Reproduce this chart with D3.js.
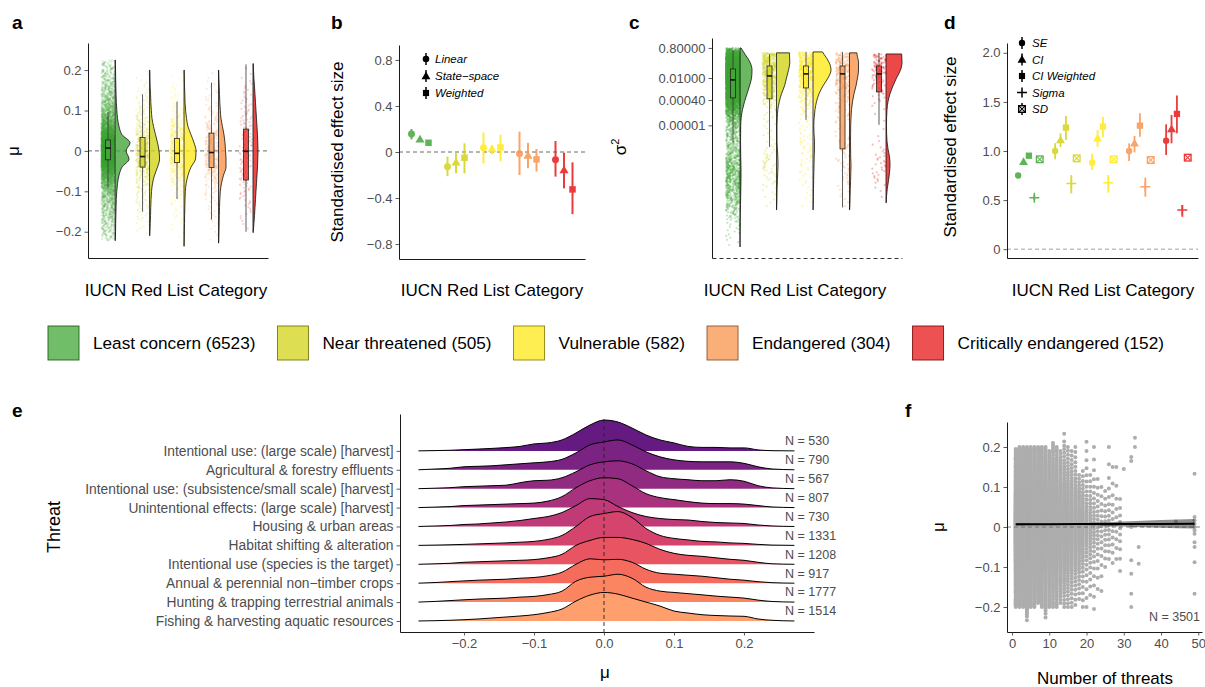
<!DOCTYPE html>
<html>
<head>
<meta charset="utf-8">
<script src="https://cdn.jsdelivr.net/npm/d3@7"></script>
<style>
  html, body { margin: 0; padding: 0; background: #ffffff; }
  svg { display: block; font-family: "Liberation Sans", Arial, Helvetica, sans-serif; }
</style>
</head>
<body>
<svg id="fig" width="1205" height="687"></svg>
<script>
// ---------------------------------------------------------------------------
// Data
// ---------------------------------------------------------------------------
const categories = ["Least concern", "Near threatened", "Vulnerable", "Endangered", "Critically endangered"];
const categoryN = [6523, 505, 582, 304, 152];

// (a) distribution of μ per category (density on muGrid) and box statistics
const muGrid = [-0.24, -0.22, -0.2, -0.18, -0.16, -0.14, -0.12, -0.1, -0.08, -0.06, -0.04, -0.02, 0,
                0.02, 0.04, 0.06, 0.08, 0.1, 0.12, 0.14, 0.16, 0.18, 0.2, 0.22, 0.24];
const muDensLC = [0, 0.3, 0.5, 0.6, 0.8, 1, 1.2, 1.7, 2.5, 4, 7, 14, 11, 15, 7, 4, 2.5, 1.8, 1.3, 1, 0.8, 0.6, 0.5, 0.3, 0];
const muDensNT = [0, 0, 0.4, 0.7, 1, 1.2, 1.5, 2, 3, 5, 8, 10, 9.5, 8, 6, 4, 2.5, 1.8, 1.3, 1, 0.6, 0.4, 0.3, 0, 0];
const muDensVU = [0, 0.2, 0.3, 0.45, 0.6, 0.8, 1, 1.3, 2.2, 4, 7, 11.5, 12, 10, 7, 4, 2.5, 1.6, 1, 0.8, 0.5, 0.35, 0.2, 0, 0];
const muDensEN = [0, 0.3, 0.5, 0.65, 0.8, 1, 1.3, 1.8, 3, 5, 7.5, 7.5, 7, 6.5, 5.5, 4, 2.5, 1.8, 1.3, 1, 0.7, 0.4, 0.2, 0, 0];
const muDensCR = [0, 0, 0.3, 0.9, 1.5, 2, 2.5, 3, 3.5, 4, 4.5, 4.8, 5, 4.8, 4.5, 4, 3.5, 3, 2.5, 2, 1.5, 0.9, 0.5, 0.2, 0];
const muMin = [-0.222, -0.21, -0.236, -0.228, -0.202];
const muMax = [0.225, 0.2, 0.2, 0.2, 0.216];
const muWhiskerLo = [-0.09, -0.15, -0.119, -0.17, -0.2];
const muQ1 = [-0.022, -0.04, -0.029, -0.041, -0.072];
const muMedian = [0.007, -0.014, -0.006, -0.004, -0.001];
const muQ3 = [0.027, 0.033, 0.031, 0.044, 0.054];
const muWhiskerHi = [0.095, 0.14, 0.122, 0.169, 0.214];
const muTicks = [-0.2, -0.1, 0, 0.1, 0.2];

// (b) standardised effect sizes by model
const bMethods = ["Linear", "State\u2212space", "Weighted"];
const bLinear = [0.157, -0.128, 0.038, -0.015, -0.067];
const bLinearLo = [0.11, -0.21, -0.1, -0.2, -0.214];
const bLinearHi = [0.2, -0.04, 0.17, 0.177, 0.096];
const bStateSpace = [0.11, -0.09, 0.026, -0.03, -0.157];
const bStateSpaceLo = [0.095, -0.185, -0.02, -0.14, -0.316];
const bStateSpaceHi = [0.125, -0.01, 0.06, 0.08, -0.006];
const bWeighted = [0.08, -0.05, 0.04, -0.064, -0.325];
const bWeightedLo = [0.07, -0.185, -0.08, -0.17, -0.54];
const bWeightedHi = [0.09, 0.075, 0.15, 0.026, -0.09];
const bTicks = [-0.8, -0.4, 0, 0.4, 0.8];

// (c) σ² distribution per category, as log10 exponents
const sigmaGrid = [-13, -12.5, -12, -11.5, -11, -10.5, -10, -9.5, -9, -8.5, -8, -7.5, -7, -6.5, -6,
                   -5.5, -5, -4.5, -4, -3.5, -3, -2.5, -2, -1.5, -1, -0.5, 0];
const sigmaDensLC = [0, 0.03, 0.05, 0.08, 0.15, 0.3, 0.5, 0.65, 0.8, 0.95, 1, 0.9, 0.7, 0.6, 0.5, 0.6, 0.7, 1.2, 2.5, 4.5, 7, 9.5, 11.5, 12, 10, 5, 0];
const sigmaDensNT = [0, 0, 0, 0, 0, 0, 0.3, 0.45, 0.6, 0.9, 1.2, 1.5, 1.3, 0.9, 0.5, 0.5, 0.5, 0.8, 1.3, 2.8, 5, 8, 10, 12, 13.3, 13, 13];
const sigmaDensVU = [0, 0, 0, 0, 0, 0, 0.3, 0.4, 0.5, 0.65, 0.8, 1, 1.2, 1.5, 1.5, 1, 0.8, 1.2, 2, 3.5, 6, 10, 15, 18, 16, 11, 6];
const sigmaDensEN = [0, 0, 0, 0, 0, 0, 0.4, 0.6, 0.8, 1.1, 1.3, 1.5, 1.2, 1.1, 1, 1.1, 1.2, 1.5, 2, 3, 4.5, 6.5, 8, 9, 9, 7.5, 7];
const sigmaDensCR = [0, 0, 0, 0, 0, 0, 0.2, 0.5, 1.3, 2.5, 3.5, 4, 3.5, 2, 1, 0.6, 0.5, 0.6, 1, 2, 4, 7, 10.5, 14.5, 16, 15.7, 15];
const sigmaMin = [-12.7, -10.35, -10.35, -10.35, -9.9];
const sigmaMax = [-0.1, -0.41, -0.35, -0.41, -0.48];
const sigmaWhiskerLo = [-6.05, -6.36, -4.65, -10.2, -4.97];
const sigmaQ1 = [-3.26, -3.32, -2.63, -6.49, -2.88];
const sigmaMedian = [-2.12, -1.87, -1.74, -1.74, -1.74];
const sigmaQ3 = [-1.43, -1.24, -1.24, -1.24, -1.24];
const sigmaWhiskerHi = [-0.22, -0.48, -0.35, -0.35, -0.41];
const sigmaTicks = [0.8, 0.01, 0.0004, 0.00001];

// (d) effect sizes by uncertainty measure
const dMethods = ["SE", "CI", "CI Weighted", "Sigma", "SD"];
const dSE = [0.75, 1.0, 0.88, 1.0, 1.105];
const dSELo = [0.74, 0.915, 0.806, 0.898, 0.96];
const dSEHi = [0.76, 1.08, 0.97, 1.078, 1.272];
const dCI = [0.89, 1.112, 1.13, 1.078, 1.224];
const dCILo = [0.875, 1.04, 1.044, 0.986, 1.078];
const dCIHi = [0.905, 1.18, 1.214, 1.153, 1.367];
const dCIW = [0.952, 1.238, 1.248, 1.258, 1.378];
const dCIWLo = [0.935, 1.112, 1.14, 1.146, 1.18];
const dCIWHi = [0.97, 1.357, 1.35, 1.384, 1.565];
const dSigma = [0.524, 0.67, 0.677, 0.636, 0.398];
const dSigmaLo = [0.5, 0.568, 0.575, 0.534, 0.33];
const dSigmaHi = [0.55, 0.755, 0.755, 0.728, 0.45];
const dSD = [0.915, 0.925, 0.915, 0.908, 0.932];
const dSDLo = [0.9, 0.91, 0.9, 0.893, 0.917];
const dSDHi = [0.93, 0.94, 0.93, 0.923, 0.947];
const dTicks = [0, 0.5, 1, 1.5, 2];

// (e) μ density by threat type
const threats = [
  "Intentional use: (large scale) [harvest]",
  "Agricultural & forestry effluents",
  "Intentional use: (subsistence/small scale) [harvest]",
  "Unintentional effects: (large scale) [harvest]",
  "Housing & urban areas",
  "Habitat shifting & alteration",
  "Intentional use (species is the target)",
  "Annual & perennial non\u2212timber crops",
  "Hunting & trapping terrestrial animals",
  "Fishing & harvesting aquatic resources"
];
const threatN = [530, 790, 567, 807, 730, 1331, 1208, 917, 1777, 1514];
const ridgeGrid = [-0.265, -0.24, -0.22, -0.2, -0.18, -0.16, -0.14, -0.12, -0.1, -0.08, -0.06, -0.04, -0.02, 0,
                   0.02, 0.04, 0.06, 0.08, 0.1, 0.12, 0.14, 0.16, 0.18, 0.2, 0.22, 0.24, 0.272];
const ridgeLargeHarvest   = [0, 0.3, 0.6, 1.2, 1.8, 2.5, 3.3, 4.5, 7, 8, 11, 18, 26, 31, 29, 23, 16, 11, 8, 4.5, 3.5, 3.5, 3, 3, 1, 0.2, 0];
const ridgeEffluents      = [0, 0.8, 1.5, 3, 3.5, 4, 5, 6, 7, 8, 10.5, 17, 25, 28, 30, 25, 18, 13, 10, 8.5, 8, 8, 8, 6.5, 3, 0.8, 0];
const ridgeSmallHarvest   = [0, 0.5, 1, 2, 2.5, 3, 3.5, 6, 8, 8.5, 11, 17, 24, 27, 28, 25, 18, 12, 10, 9, 8, 8, 9, 7.5, 3, 0.8, 0];
const ridgeUnintentional  = [0, 0.5, 1, 2, 2.5, 3, 3.5, 4, 4.5, 6.5, 11, 20, 27, 30, 29, 22, 14, 10, 8, 6, 4.5, 4, 4, 3.5, 2, 0.6, 0];
const ridgeHousing        = [0, 0.5, 1, 2, 2.5, 3.5, 4.5, 6, 8, 10, 14, 21, 28, 27, 20, 14, 10, 8, 7, 6.5, 5, 4, 3.5, 3, 1.5, 0.5, 0];
const ridgeHabitat        = [0, 0.3, 0.6, 1, 1.5, 2, 2.5, 3.2, 4, 6, 10, 19, 29, 32, 34, 28, 17, 10, 7, 5.5, 4, 3.5, 2.5, 2, 1, 0.3, 0];
const ridgeSpeciesTarget  = [0, 0.5, 1, 2, 2.5, 3, 3.5, 4, 4.7, 6.5, 10, 19, 24, 27, 27, 25, 21, 15, 11, 9, 8, 6.5, 5, 4, 2, 0.5, 0];
const ridgeCrops          = [0, 0.7, 1.5, 2.3, 3, 3.5, 4, 5, 5.7, 7.5, 11, 19, 24.5, 23.5, 24, 21, 14, 10, 9, 8, 7, 5.5, 4, 3, 1.5, 0.5, 0];
const ridgeHunting        = [0, 0.7, 1.5, 2.3, 3, 3.5, 4, 5, 5.7, 7.5, 11, 21, 25, 26, 28, 24, 15, 11, 9.7, 8.5, 7.3, 6, 5, 4, 2, 0.6, 0];
const ridgeFishing        = [0, 0.3, 0.7, 1.3, 2, 3, 4, 5, 6.3, 8.5, 12, 20, 26, 28.7, 27, 23, 19, 15, 10, 8, 6.3, 5.5, 5, 4.7, 2, 0.7, 0];
const eTicks = [-0.2, -0.1, 0, 0.1, 0.2];

// (f) μ against number of threats
const fColX  = [1, 2, 3, 4, 5, 6, 7, 8, 9, 10, 11, 12, 13, 14, 15, 16, 17, 18, 19, 20, 21, 22, 23, 24, 25, 26, 27, 28, 29];
const fColN  = [332, 320, 310, 290, 270, 230, 210, 190, 175, 160, 140, 125, 110, 95, 85, 75, 65, 55, 45, 38, 32, 28, 20, 15, 14, 16, 12, 10, 10];
const fColLo = [-0.2, -0.2, -0.2, -0.233, -0.2, -0.2, -0.19, -0.2, -0.226, -0.2, -0.2, -0.2, -0.19, -0.2, -0.2, -0.2, -0.195, -0.18, -0.2, -0.2, -0.17, -0.205, -0.155, -0.16, -0.1, -0.08, -0.09, -0.08, -0.11];
const fColHi = [0.195, 0.2, 0.2, 0.2, 0.2, 0.2, 0.2, 0.2, 0.2, 0.19, 0.21, 0.2, 0.19, 0.233, 0.2, 0.19, 0.2, 0.13, 0.14, 0.213, 0.13, 0.2, 0.12, 0.1, 0.09, 0.2, 0.15, 0.15, 0.07];
const fDensity = [0, 1.5, 3, 2.5, 3, 3.5, 4, 5, 6, 7, 8.5, 10, 10.5, 10, 8.5, 7, 6, 5, 4, 3.5, 3, 2.5, 3, 1.5, 0];
const fSparseX = [30, 32, 32, 32, 32, 32, 32, 32, 33, 33, 34, 34, 44, 49, 49, 49, 49, 49, 49, 49, 49, 49, 49, 49];
const fSparseY = [0.145, 0.175, 0.165, 0.0, -0.083, -0.117, -0.167, -0.2, 0.223, 0.2, -0.05, -0.092, 0.014,
                  0.133, 0.025, 0.017, 0.008, 0.0, -0.008, -0.017, -0.038, -0.05, -0.088, -0.167];
const fitX  = [1, 10, 20, 30, 40, 49];
const fitMu = [0.0066, 0.0069, 0.0072, 0.0075, 0.0078, 0.0081];
const fitLo = [0.004, 0.0055, 0.0045, 0.001, -0.002, -0.004];
const fitHi = [0.0092, 0.0083, 0.0099, 0.014, 0.0176, 0.0202];
const fXTicks = [0, 10, 20, 30, 40, 50];
const fTotalN = 3501;

// ---------------------------------------------------------------------------
// Shared helpers and styles
// ---------------------------------------------------------------------------
const svg = d3.select("#fig");
const tickGray = "#4d4d4d";
const catColor = d3.scaleOrdinal().domain(categories)
  .range(["#45a83b", "#d2d41a", "#ffe91a", "#f9954e", "#e81a1a"]);
const muDensities = [muDensLC, muDensNT, muDensVU, muDensEN, muDensCR];
const sigmaDensities = [sigmaDensLC, sigmaDensNT, sigmaDensVU, sigmaDensEN, sigmaDensCR];

const minusFmt = d => d === 0 ? "0" : d3.format(".1f")(d);

// deterministic horizontal jitter in [0, 1) from an integer index
function jitter01(i, seed) {
  let h = Math.imul(i + 1, 374761393) ^ Math.imul(seed + 7, 668265263);
  h = Math.imul(h ^ (h >>> 13), 1274126177);
  h ^= h >>> 16;
  return (h >>> 0) / 4294967296;
}

function styleAxis(g, size) {
  g.attr("font-family", null).attr("font-size", null);
  g.select(".domain").attr("stroke", "#1a1a1a").attr("stroke-width", 1);
  g.selectAll(".tick line").attr("stroke", "#333333").attr("stroke-width", 0.8);
  g.selectAll(".tick text").attr("fill", tickGray).attr("font-size", size);
}

// evenly spaced quantiles of a piecewise-linear density restricted to [lo, hi]
function quantileValues(grid, dens, lo, hi, n, inclusive) {
  const f = d3.scaleLinear().domain(grid).range(dens).clamp(true);
  const steps = 800;
  const xs = d3.range(steps + 1).map(k => lo + (hi - lo) * k / steps);
  const cum = [0];
  for (let k = 1; k <= steps; k++) cum.push(cum[k - 1] + (f(xs[k - 1]) + f(xs[k])) / 2);
  const total = cum[steps];
  return d3.range(n).map(i => {
    const p = (inclusive ? (n > 1 ? i / (n - 1) : 0.5) : (i + 0.5) / n) * total;
    const k = d3.bisectLeft(cum, p);
    if (k <= 0) return xs[0];
    if (k > steps) return xs[steps];
    const c0 = cum[k - 1], c1 = cum[k];
    const t = c1 > c0 ? (p - c0) / (c1 - c0) : 0;
    return xs[k - 1] + t * (xs[k] - xs[k - 1]);
  });
}

// right-hand half violin with a straight left edge at x0
function halfViolin(grid, dens, lo, hi, x0, yPos, wScale) {
  const f = d3.scaleLinear().domain(grid).range(dens).clamp(true);
  const vals = [hi, ...grid.filter(g => g < hi && g > lo).reverse(), lo];
  const pts = vals.map(v => [x0 + wScale(f(v)), yPos(v)]);
  const curve = d3.line().curve(d3.curveMonotoneY)(pts);
  return `M${x0},${pts[0][1]}L` + curve.slice(1) + `L${x0},${pts[pts.length - 1][1]}Z`;
}

function boxPlot(g, x, w, yPos, lo, q1, med, q3, hi, color) {
  g.append("line").attr("x1", x).attr("x2", x).attr("y1", yPos(hi)).attr("y2", yPos(q3))
    .attr("stroke", "#333").attr("stroke-width", 0.8);
  g.append("line").attr("x1", x).attr("x2", x).attr("y1", yPos(q1)).attr("y2", yPos(lo))
    .attr("stroke", "#333").attr("stroke-width", 0.8);
  g.append("rect").attr("x", x - w / 2).attr("y", yPos(q3)).attr("width", w)
    .attr("height", yPos(q1) - yPos(q3)).attr("fill", color).attr("fill-opacity", 0.75)
    .attr("stroke", "#222").attr("stroke-width", 0.8);
  g.append("line").attr("x1", x - w / 2).attr("x2", x + w / 2).attr("y1", yPos(med)).attr("y2", yPos(med))
    .attr("stroke", "#111").attr("stroke-width", 1.6);
}

function panelLabel(text, x, y) {
  svg.append("text").attr("x", x).attr("y", y).attr("font-size", 19).attr("font-weight", "bold")
    .attr("fill", "#000").text(text);
}
function xTitle(text, x, y) {
  svg.append("text").attr("x", x).attr("y", y).attr("text-anchor", "middle")
    .attr("font-size", 17).attr("fill", "#000").text(text);
}
function yTitle(text, x, y, size) {
  return svg.append("text").attr("transform", `translate(${x},${y}) rotate(-90)`)
    .attr("text-anchor", "middle").attr("font-size", size || 17).attr("fill", "#000").text(text);
}

// marker shapes for panels b and d
function drawMarker(g, shape, x, y, color, opts) {
  const o = Object.assign({ circle: 34, triangle: 34, square: 40 }, opts || {});
  if (shape === "circle" || shape === "triangle" || shape === "square") {
    const type = shape === "circle" ? d3.symbolCircle : shape === "triangle" ? d3.symbolTriangle : d3.symbolSquare;
    const dy = shape === "triangle" ? 0.6 : 0;
    g.append("path").attr("d", d3.symbol().type(type).size(o[shape])())
      .attr("transform", `translate(${x},${y + dy})`).attr("fill", color);
  } else if (shape === "plus") {
    g.append("path").attr("d", `M${x - 5},${y}H${x + 5}M${x},${y - 5}V${y + 5}`)
      .attr("stroke", color).attr("stroke-width", 1.5).attr("fill", "none");
  } else if (shape === "squarecross") {
    const s = 3.3;
    g.append("rect").attr("x", x - s).attr("y", y - s).attr("width", 2 * s).attr("height", 2 * s)
      .attr("fill", "#fff").attr("stroke", color).attr("stroke-width", 1.4);
    g.append("path").attr("d", `M${x - s},${y - s}L${x + s},${y + s}M${x + s},${y - s}L${x - s},${y + s}`)
      .attr("stroke", color).attr("stroke-width", 1.1);
  }
}

// ---------------------------------------------------------------------------
// Panel a: μ by IUCN category (rain-cloud)
// ---------------------------------------------------------------------------
{
  const yA = d3.scaleLinear().domain([-0.265, 0.267]).range([258, 43]);
  const xA = d3.scalePoint().domain(categories).range([88, 268]).padding(0.61).align(0.56);
  const wA = d3.scaleLinear().domain([0, 15]).range([0, 15]);
  const g = svg.append("g");

  g.append("line").attr("x1", 88).attr("x2", 268).attr("y1", yA(0)).attr("y2", yA(0))
    .attr("stroke", "#444").attr("stroke-width", 0.8).attr("stroke-dasharray", "4,3");

  categories.forEach((cat, ci) => {
    const color = catColor(cat);
    const bx = xA(cat) - 3.5;
    const vals = quantileValues(muGrid, muDensities[ci], muMin[ci], muMax[ci], categoryN[ci], false);
    g.append("g").selectAll("circle").data(vals).join("circle")
      .attr("cx", (d, i) => bx + (jitter01(i, ci) - 0.5) * 13)
      .attr("cy", d => yA(d)).attr("r", 1.1)
      .attr("fill", color).attr("fill-opacity", 0.2);
    boxPlot(g, bx, 5, yA, muWhiskerLo[ci], muQ1[ci], muMedian[ci], muQ3[ci], muWhiskerHi[ci], color);
    g.append("path").attr("d", halfViolin(muGrid, muDensities[ci], muMin[ci], muMax[ci], xA(cat) + 3.5, yA, wA))
      .attr("fill", color).attr("fill-opacity", 0.8).attr("stroke", "#111").attr("stroke-width", 0.8);
  });

  const ay = g.append("g").attr("transform", "translate(88,0)")
    .call(d3.axisLeft(yA).tickValues(muTicks).tickFormat(minusFmt).tickSize(3.5).tickSizeOuter(0).tickPadding(3));
  styleAxis(ay, 13);
  const ax = g.append("g").attr("transform", "translate(0,258)")
    .call(d3.axisBottom(xA).tickValues([]).tickSizeOuter(0));
  styleAxis(ax, 13);

  panelLabel("a", 12, 29);
  yTitle("\u03bc", 19, 151, 17);
  xTitle("IUCN Red List Category", 176, 296);
}

// ---------------------------------------------------------------------------
// Panel b: standardised effect sizes by model
// ---------------------------------------------------------------------------
{
  const yB = d3.scaleLinear().domain([-0.93, 0.93]).range([259, 45]);
  const xB = d3.scalePoint().domain(categories).range([399, 585]).padding(0.583).align(0.5);
  const dodge = d3.scalePoint().domain(bMethods).range([-8.5, 8.5]);
  const shapes = ["circle", "triangle", "square"];
  const est = [bLinear, bStateSpace, bWeighted];
  const lo = [bLinearLo, bStateSpaceLo, bWeightedLo];
  const hi = [bLinearHi, bStateSpaceHi, bWeightedHi];
  const g = svg.append("g");

  g.append("line").attr("x1", 399).attr("x2", 585).attr("y1", yB(0)).attr("y2", yB(0))
    .attr("stroke", "#444").attr("stroke-width", 0.8).attr("stroke-dasharray", "4,3");

  categories.forEach((cat, ci) => {
    const color = catColor(cat);
    bMethods.forEach((m, mi) => {
      const x = xB(cat) + dodge(m);
      const mg = g.append("g").attr("opacity", 0.85);
      mg.append("line").attr("x1", x).attr("x2", x).attr("y1", yB(lo[mi][ci])).attr("y2", yB(hi[mi][ci]))
        .attr("stroke", color).attr("stroke-width", 2);
      drawMarker(mg, shapes[mi], x, yB(est[mi][ci]), color, { circle: 38, triangle: 36, square: 42 });
    });
  });

  const ay = g.append("g").attr("transform", "translate(399,0)")
    .call(d3.axisLeft(yB).tickValues(bTicks).tickFormat(minusFmt).tickSize(3.5).tickSizeOuter(0).tickPadding(3));
  styleAxis(ay, 13);
  const ax = g.append("g").attr("transform", "translate(0,259)")
    .call(d3.axisBottom(xB).tickValues([]).tickSizeOuter(0));
  styleAxis(ax, 13);

  // method legend
  const legY = d3.scalePoint().domain(bMethods).range([59, 93]);
  bMethods.forEach((m, mi) => {
    const y = legY(m);
    g.append("line").attr("x1", 426).attr("x2", 426).attr("y1", y - 6).attr("y2", y + 6)
      .attr("stroke", "#000").attr("stroke-width", 1.5);
    drawMarker(g, shapes[mi], 426, y, "#000", { circle: 34, triangle: 34, square: 38 });
    g.append("text").attr("x", 435).attr("y", y).attr("dy", "0.35em")
      .attr("font-size", 11.5).attr("font-style", "italic").attr("fill", "#000").text(m);
  });

  panelLabel("b", 331, 29);
  yTitle("Standardised effect size", 343, 152, 17);
  xTitle("IUCN Red List Category", 492, 296);
}

// ---------------------------------------------------------------------------
// Panel c: σ² by IUCN category (log scale)
// ---------------------------------------------------------------------------
{
  const yC = d3.scaleLog().domain([4e-14, 3.4]).range([258, 38]);
  const yExp = e => yC(Math.pow(10, e));
  const xC = d3.scalePoint().domain(categories).range([712, 902]).padding(0.603).align(0.557);
  const wC = d3.scaleLinear().domain([0, 18]).range([0, 18]);
  const g = svg.append("g");

  categories.forEach((cat, ci) => {
    const color = catColor(cat);
    const bx = xC(cat) - 3.5;
    const vals = quantileValues(sigmaGrid, sigmaDensities[ci], sigmaMin[ci], sigmaMax[ci], categoryN[ci], false);
    g.append("g").selectAll("circle").data(vals).join("circle")
      .attr("cx", (d, i) => bx + (jitter01(i, ci + 11) - 0.5) * 14)
      .attr("cy", d => yExp(d)).attr("r", 1.1)
      .attr("fill", color).attr("fill-opacity", 0.3);
    boxPlot(g, bx, 5, yExp, sigmaWhiskerLo[ci], sigmaQ1[ci], sigmaMedian[ci], sigmaQ3[ci], sigmaWhiskerHi[ci], color);
    g.append("path").attr("d", halfViolin(sigmaGrid, sigmaDensities[ci], sigmaMin[ci], sigmaMax[ci], xC(cat) + 3.5, yExp, wC))
      .attr("fill", color).attr("fill-opacity", 0.8).attr("stroke", "#111").attr("stroke-width", 0.8);
  });

  const ay = g.append("g").attr("transform", "translate(712,0)")
    .call(d3.axisLeft(yC).tickValues(sigmaTicks).tickFormat(d3.format(".5f")).tickSize(3.5).tickSizeOuter(0).tickPadding(3));
  styleAxis(ay, 13);
  const ax = g.append("g").attr("transform", "translate(0,258)")
    .call(d3.axisBottom(xC).tickValues([]).tickSizeOuter(0));
  styleAxis(ax, 13);
  ax.select(".domain").attr("stroke", "#333").attr("stroke-dasharray", "4,3");

  panelLabel("c", 629, 29);
  const t = svg.append("text").attr("transform", "translate(626,147) rotate(-90)")
    .attr("text-anchor", "middle").attr("font-size", 17).attr("fill", "#000");
  t.append("tspan").text("\u03c3");
  t.append("tspan").attr("font-size", 11).attr("dy", -7).text("2");
  xTitle("IUCN Red List Category", 795, 296);
}

// ---------------------------------------------------------------------------
// Panel d: effect sizes by uncertainty measure
// ---------------------------------------------------------------------------
{
  const yD = d3.scaleLinear().domain([-0.09, 2.1]).range([258, 43]);
  const xD = d3.scalePoint().domain(categories).range([1007, 1198]).padding(0.581).align(0.51);
  const dodge = d3.scalePoint().domain(dMethods).range([-10.8, 10.8]);
  const shapes = ["circle", "triangle", "square", "plus", "squarecross"];
  const est = [dSE, dCI, dCIW, dSigma, dSD];
  const lo = [dSELo, dCILo, dCIWLo, dSigmaLo, dSDLo];
  const hi = [dSEHi, dCIHi, dCIWHi, dSigmaHi, dSDHi];
  const g = svg.append("g");

  g.append("line").attr("x1", 1007).attr("x2", 1198).attr("y1", yD(0)).attr("y2", yD(0))
    .attr("stroke", "#888").attr("stroke-width", 0.8).attr("stroke-dasharray", "4,3");

  categories.forEach((cat, ci) => {
    const color = catColor(cat);
    dMethods.forEach((m, mi) => {
      const x = xD(cat) + dodge(m);
      const mg = g.append("g").attr("opacity", 0.85);
      mg.append("line").attr("x1", x).attr("x2", x).attr("y1", yD(lo[mi][ci])).attr("y2", yD(hi[mi][ci]))
        .attr("stroke", color).attr("stroke-width", 1.8);
      drawMarker(mg, shapes[mi], x, yD(est[mi][ci]), color, { circle: 32, triangle: 34, square: 40 });
    });
  });

  const ay = g.append("g").attr("transform", "translate(1007,0)")
    .call(d3.axisLeft(yD).tickValues(dTicks).tickFormat(minusFmt).tickSize(3.5).tickSizeOuter(0).tickPadding(3));
  styleAxis(ay, 13);
  const ax = g.append("g").attr("transform", "translate(0,258)")
    .call(d3.axisBottom(xD).tickValues([]).tickSizeOuter(0));
  styleAxis(ax, 13);

  const legY = d3.scalePoint().domain(dMethods).range([43, 109]);
  dMethods.forEach((m, mi) => {
    const y = legY(m);
    if (shapes[mi] !== "plus") {
      g.append("line").attr("x1", 1022).attr("x2", 1022).attr("y1", y - 6).attr("y2", y + 6)
        .attr("stroke", "#000").attr("stroke-width", 1.5);
    }
    drawMarker(g, shapes[mi], 1022, y, "#000", { circle: 32, triangle: 34, square: 38 });
    g.append("text").attr("x", 1032).attr("y", y).attr("dy", "0.35em")
      .attr("font-size", 11.5).attr("font-style", "italic").attr("fill", "#000").text(m);
  });

  panelLabel("d", 944, 29);
  yTitle("Standardised effect size", 956, 147, 17);
  xTitle("IUCN Red List Category", 1103, 296);
}

// ---------------------------------------------------------------------------
// Shared category legend
// ---------------------------------------------------------------------------
{
  const g = svg.append("g");
  let x = 48;
  categories.forEach((cat, ci) => {
    const color = catColor(cat);
    g.append("rect").attr("x", x).attr("y", 326).attr("width", 31).attr("height", 34)
      .attr("fill", color).attr("fill-opacity", 0.76)
      .attr("stroke", d3.color(color).darker(1.6)).attr("stroke-width", 0.9);
    const t = g.append("text").attr("x", x + 45).attr("y", 343).attr("dy", "0.35em")
      .attr("font-size", 17.2).attr("fill", "#000").text(`${cat} (${categoryN[ci]})`);
    x += 45 + t.node().getComputedTextLength() + 22;
  });
}

// ---------------------------------------------------------------------------
// Panel e: ridgelines of μ by threat
// ---------------------------------------------------------------------------
{
  const ridges = [ridgeLargeHarvest, ridgeEffluents, ridgeSmallHarvest, ridgeUnintentional, ridgeHousing,
                  ridgeHabitat, ridgeSpeciesTarget, ridgeCrops, ridgeHunting, ridgeFishing];
  const xE = d3.scaleLinear().domain([-0.2914, 0.3]).range([400, 814]);
  const yE = d3.scalePoint().domain(threats).range([414, 632]).padding(1.267).align(0.77);
  const hE = d3.scaleLinear().domain([0, 19]).range([0, yE.step()]);
  const fillE = d3.scaleLinear().domain([0, threats.length - 1]).range([0.3, 0.8]);
  const g = svg.append("g");

  threats.forEach((th, ti) => {
    const base = yE(th);
    const pts = ridgeGrid.map((v, k) => ({ x: v, h: ridges[ti][k] }));
    const area = d3.area().curve(d3.curveMonotoneX)
      .x(d => xE(d.x)).y0(base).y1(d => base - hE(d.h));
    const line = d3.line().curve(d3.curveMonotoneX)
      .x(d => xE(d.x)).y(d => base - hE(d.h));
    g.append("path").attr("d", area(pts)).attr("fill", d3.interpolateMagma(fillE(ti)));
    g.append("path").attr("d", line(pts)).attr("fill", "none").attr("stroke", "#000").attr("stroke-width", 1);
    g.append("text").attr("x", 785).attr("y", base - 10).attr("dy", "0.35em")
      .attr("font-size", 12.5).attr("fill", tickGray).text(`N = ${threatN[ti]}`);
  });

  g.append("line").attr("x1", xE(0)).attr("x2", xE(0)).attr("y1", 419).attr("y2", 632)
    .attr("stroke", "#222").attr("stroke-width", 0.9).attr("stroke-dasharray", "4,3");

  const ay = g.append("g").attr("transform", "translate(400,0)")
    .call(d3.axisLeft(yE).tickSize(3.5).tickSizeOuter(0).tickPadding(3));
  styleAxis(ay, 13.8);
  const ax = g.append("g").attr("transform", "translate(0,632)")
    .call(d3.axisBottom(xE).tickValues(eTicks).tickFormat(d3.format(".1f")).tickSize(3.5).tickSizeOuter(0).tickPadding(3));
  styleAxis(ax, 13);

  panelLabel("e", 12, 417);
  yTitle("Threat", 60, 527, 18);
  svg.append("text").attr("x", 605).attr("y", 678).attr("text-anchor", "middle")
    .attr("font-size", 17).attr("fill", "#000").text("\u03bc");
}

// ---------------------------------------------------------------------------
// Panel f: μ against number of threats
// ---------------------------------------------------------------------------
{
  const xF = d3.scaleLinear().domain([-1.35, 51]).range([1007, 1202]);
  const yF = d3.scaleLinear().domain([-0.2625, 0.2625]).range([632, 422]);
  const g = svg.append("g");

  const pts = [];
  fColX.forEach((x, k) => {
    quantileValues(muGrid, fDensity, fColLo[k], fColHi[k], fColN[k], true)
      .forEach(y => pts.push([x, y]));
  });
  fSparseX.forEach((x, k) => pts.push([x, fSparseY[k]]));

  g.append("g").selectAll("circle").data(pts).join("circle")
    .attr("cx", d => xF(d[0])).attr("cy", d => yF(d[1])).attr("r", 2)
    .attr("fill", "#adadad");

  g.append("line").attr("x1", 1007).attr("x2", 1202).attr("y1", yF(0)).attr("y2", yF(0))
    .attr("stroke", "#666").attr("stroke-width", 0.8).attr("stroke-dasharray", "4,3");

  const fit = fitX.map((x, k) => ({ x, m: fitMu[k], lo: fitLo[k], hi: fitHi[k] }));
  g.append("path").attr("d", d3.area().curve(d3.curveMonotoneX)
      .x(d => xF(d.x)).y0(d => yF(d.lo)).y1(d => yF(d.hi))(fit))
    .attr("fill", "#333").attr("fill-opacity", 0.55);
  g.append("path").attr("d", d3.line().x(d => xF(d.x)).y(d => yF(d.m))(fit))
    .attr("fill", "none").attr("stroke", "#000").attr("stroke-width", 2);

  g.append("text").attr("x", 1200).attr("y", 617).attr("text-anchor", "end").attr("dy", "0.35em")
    .attr("font-size", 12.5).attr("fill", tickGray).text(`N = ${fTotalN}`);

  const ay = g.append("g").attr("transform", "translate(1007,0)")
    .call(d3.axisLeft(yF).tickValues(muTicks).tickFormat(minusFmt).tickSize(3.5).tickSizeOuter(0).tickPadding(3));
  styleAxis(ay, 13);
  const ax = g.append("g").attr("transform", "translate(0,632)")
    .call(d3.axisBottom(xF).tickValues(fXTicks).tickFormat(d3.format("d")).tickSize(3.5).tickSizeOuter(0).tickPadding(3));
  styleAxis(ax, 13);

  panelLabel("f", 905, 417);
  yTitle("\u03bc", 944, 527, 17);
  xTitle("Number of threats", 1105, 684);
}
</script>
</body>
</html>
